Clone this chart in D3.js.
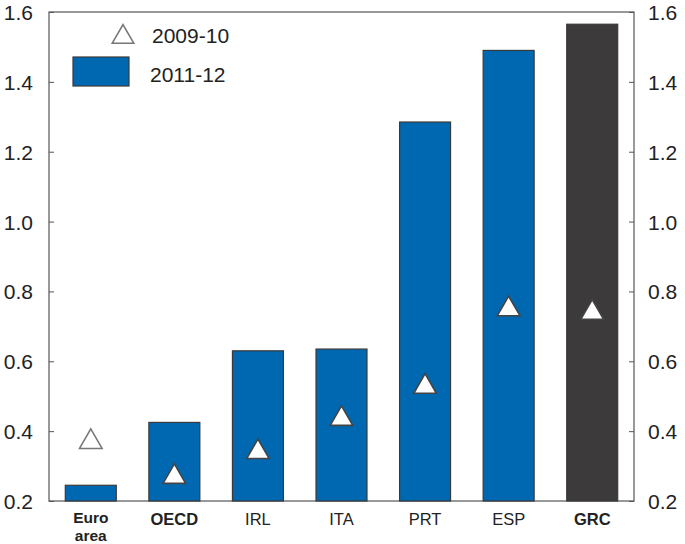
<!DOCTYPE html>
<html><head><meta charset="utf-8">
<script src="https://cdn.jsdelivr.net/npm/d3@7"></script>
<style>body{margin:0;background:#fff}svg{display:block}text{font-family:"Liberation Sans",Arial,sans-serif;fill:#222}</style>
</head><body>
<script>
const categories = ["Euro area","OECD","IRL","ITA","PRT","ESP","GRC"];
const boldCats = ["Euro area","OECD","GRC"];
const values2011 = [0.245,0.425,0.63,0.635,1.285,1.49,1.565];
const values2009 = [0.372,0.272,0.343,0.438,0.53,0.752,0.742];
const yTicks = [0.2,0.4,0.6,0.8,1.0,1.2,1.4,1.6];
const seriesNames = ["2009-10","2011-12"];

const W=685,H=544, m={l:49,r:51,t:12,b:43};
const svg=d3.select("body").append("svg").attr("width",W).attr("height",H);
const x=d3.scaleBand().domain(categories).range([m.l,W-m.r]).paddingInner(0.39).paddingOuter(0.195);
const y=d3.scaleLinear().domain([0.2,1.6]).range([H-m.b,m.t]);

// frame
svg.append("rect").attr("x",m.l).attr("y",m.t).attr("width",W-m.r-m.l).attr("height",H-m.b-m.t)
  .attr("fill","none").attr("stroke","#555").attr("stroke-width",1.2);

// bars
svg.selectAll("rect.bar").data(categories).join("rect").attr("class","bar")
  .attr("x",d=>x(d)).attr("width",x.bandwidth())
  .attr("y",(d,i)=>y(values2011[i])).attr("height",(d,i)=>y(0.2)-y(values2011[i]))
  .attr("fill",d=>d==="GRC"?"#3c3a3b":"#0068b1").attr("stroke","#3a3a3a").attr("stroke-width",1.2);

// triangles
const tri=d3.symbol().type(d3.symbolTriangle).size(220);
svg.selectAll("path.tri").data(categories).join("path").attr("class","tri")
  .attr("d",tri).attr("transform",(d,i)=>`translate(${x(d)+x.bandwidth()/2},${y(values2009[i])+1})`)
  .attr("fill","#fff").attr("stroke",(d,i)=>i===0?"#777":"#444").attr("stroke-width",1.6);

// axes
const yl=d3.axisLeft(y).tickValues(yTicks).tickFormat(d3.format(".1f")).tickSize(-5).tickPadding(16);
const yr=d3.axisRight(y).tickValues(yTicks).tickFormat(d3.format(".1f")).tickSize(-5).tickPadding(14);
[[yl,m.l],[yr,W-m.r]].forEach(([ax,pos])=>{
  const g=svg.append("g").attr("transform",`translate(${pos},0)`).call(ax);
  g.select(".domain").remove();
  g.selectAll(".tick line").attr("stroke","#555");
  g.selectAll(".tick text").attr("font-size",21).attr("fill","#222").attr("dy","0.36em");
});

// category labels
const xl=svg.append("g");
categories.forEach(c=>{
  const parts=c==="Euro area"?["Euro","area"]:[c];
  parts.forEach((p,i)=>xl.append("text").attr("x",x(c)+x.bandwidth()/2).attr("y",(parts.length>1?523:525)+i*18)
    .attr("text-anchor","middle").attr("font-size",parts.length>1?15.5:16.5)
    .attr("font-weight",boldCats.includes(c)?"bold":"normal").text(p));
});

// legend
svg.append("path").attr("d",d3.symbol().type(d3.symbolTriangle).size(200)).attr("transform","translate(123,37)")
  .attr("fill","#fff").attr("stroke","#777").attr("stroke-width",1.6);
svg.append("text").attr("x",152).attr("y",43).attr("font-size",21).text(seriesNames[0]);
svg.append("rect").attr("x",73).attr("y",57).attr("width",56).attr("height",29).attr("fill","#0068b1").attr("stroke","#3a3a3a").attr("stroke-width",1.2);
svg.append("text").attr("x",150).attr("y",82).attr("font-size",21).text(seriesNames[1]);
</script>
</body></html>
